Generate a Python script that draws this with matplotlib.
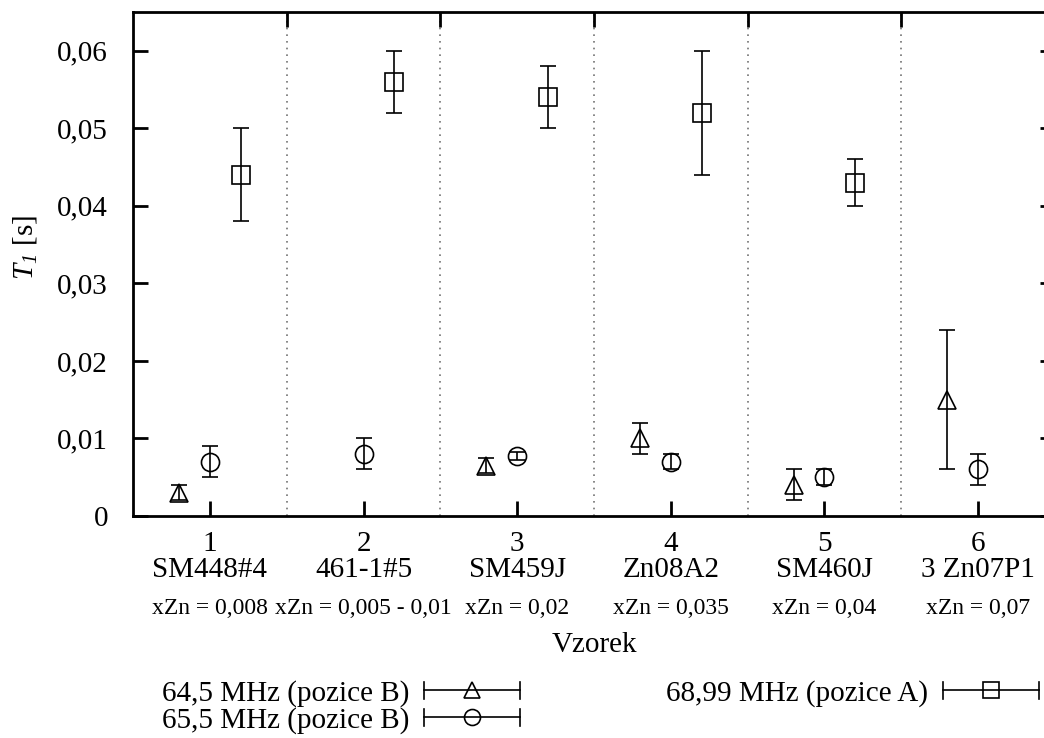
import matplotlib
matplotlib.use("Agg")
import matplotlib.pyplot as plt
import numpy as np
from matplotlib.legend_handler import HandlerBase
from matplotlib.lines import Line2D

plt.rcParams["font.family"] = ["Liberation Serif", "DejaVu Serif"]
# only the y label uses mathtext; italic everywhere there (also the digit)
plt.rcParams["mathtext.fontset"] = "custom"
plt.rcParams["mathtext.rm"] = "Liberation Serif:italic"
plt.rcParams["mathtext.it"] = "Liberation Serif:italic"

# data
vzorky = np.array([1, 2, 3, 4, 5, 6])
nazvy = ["SM448#4", "461-1#5", "SM459J", "Zn08A2", "SM460J", "3 Zn07P1"]
slozeni = ["xZn = 0,008", "xZn = 0,005 - 0,01", "xZn = 0,02",
           "xZn = 0,035", "xZn = 0,04", "xZn = 0,07"]

t1_645 = np.array([0.003, np.nan, 0.0065, 0.010, 0.004, 0.015])
err_645 = np.array([0.001, np.nan, 0.001, 0.002, 0.002, 0.009])
t1_655 = np.array([0.007, 0.008, 0.0077, 0.007, 0.005, 0.006])
err_655 = np.array([0.002, 0.002, 0.0005, 0.001, 0.001, 0.002])
t1_6899 = np.array([0.044, 0.056, 0.054, 0.052, 0.043, np.nan])
err_6899 = np.array([0.006, 0.004, 0.004, 0.008, 0.003, np.nan])

yticks = [0, 0.01, 0.02, 0.03, 0.04, 0.05, 0.06]
ytick_labels = ["0", "0,01", "0,02", "0,03", "0,04", "0,05", "0,06"]

serie = [
    ("64,5 MHz (pozice B)", t1_645, err_645, -0.2, "^"),
    ("65,5 MHz (pozice B)", t1_655, err_655, 0.0, "o"),
    ("68,99 MHz (pozice A)", t1_6899, err_6899, 0.2, "s"),
]


class HandlerChyba(HandlerBase):
    # gnuplot-like sample: horizontal bar with end caps, marker in the middle
    def create_artists(self, legend, orig_handle, xdescent, ydescent,
                       width, height, fontsize, trans):
        y = height / 2 - ydescent
        x0, x1 = -xdescent, width - xdescent
        h = height * 0.42
        kw = dict(color="black", lw=1.2, transform=trans)
        art = [Line2D([x0, x1], [y, y], **kw),
               Line2D([x0, x0], [y - h, y + h], **kw),
               Line2D([x1, x1], [y - h, y + h], **kw),
               Line2D([(x0 + x1) / 2], [y], marker=orig_handle.get_marker(),
                      ms=11.5, mfc="none", mec="black", mew=1.2,
                      ls="none", transform=trans)]
        return art


fig = plt.figure(figsize=(10.44, 7.38), dpi=100)
ax = fig.add_axes([133 / 1044, 222 / 738, 922 / 1044, 504 / 738])

handles = []
for nazev, y, e, dx, mk in serie:
    ok = ~np.isnan(y)
    ax.errorbar(vzorky[ok] + dx, y[ok], yerr=e[ok], fmt=mk, ls="none",
                mfc="none", mec="black", mew=1.2, ms=12.5 if mk != "o" else 13,
                ecolor="black", elinewidth=1.2, capsize=6, capthick=1.2)
    handles.append(Line2D([], [], marker=mk, color="black", label=nazev))

ax.set_xlim(0.5, 6.5)
ax.set_ylim(0, 0.065)

ax.set_yticks(yticks, labels=ytick_labels)
ax.set_xticks(vzorky, labels=[f"{n}\n{s}" for n, s in zip(vzorky, nazvy)])
for lbl in ax.get_xticklabels():
    lbl.set_linespacing(1.0)
ax.set_xticks(vzorky[:-1] + 0.5, minor=True)
ax.grid(True, which="minor", axis="x", color="0.45", ls=(0, (1, 3)), lw=1.2)

ax.tick_params(which="major", direction="in", length=11, width=2,
               labelsize=21, top=False, right=True)
ax.tick_params(axis="y", pad=18)
ax.tick_params(axis="x", pad=11)
ax.tick_params(which="minor", direction="in", length=11, width=2,
               bottom=False, top=True)
for sp in ax.spines.values():
    sp.set_linewidth(2)

for x, s in zip(vzorky, slozeni):
    ax.text(x, -92 / 504, s, transform=ax.get_xaxis_transform(),
            ha="center", va="center", fontsize=17)

ax.set_xlabel("Vzorek", fontsize=21)
ax.xaxis.set_label_coords(0.5, -129 / 504)
ax.xaxis.label.set_va("center")
ax.set_ylabel(r"$T_1$ [s]", fontsize=21)
ax.yaxis.set_label_coords(-108 / 922, 268 / 504)
ax.yaxis.label.set_va("center")

fig.legend(handles=handles, ncol=2, loc="upper left",
           bbox_to_anchor=(162 / 1044, 1 - 680 / 738), frameon=False,
           fontsize=21, markerfirst=False, handlelength=3.3,
           handletextpad=0.5, columnspacing=5.0, labelspacing=0.0,
           borderpad=0, borderaxespad=0,
           handler_map={Line2D: HandlerChyba()})

fig.savefig("out.png", dpi=100)
